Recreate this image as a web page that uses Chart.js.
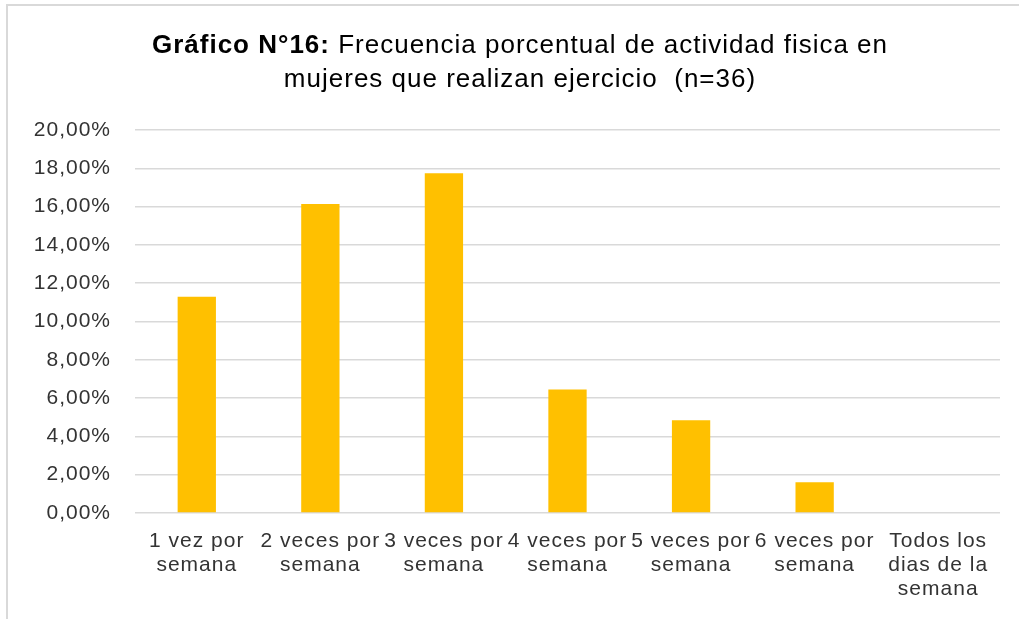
<!DOCTYPE html>
<html>
<head>
<meta charset="utf-8">
<script src="https://cdn.jsdelivr.net/npm/chart.js@4"></script>
<style>
  html, body { margin: 0; padding: 0; background: #fff; }
  #wrap { position: relative; width: 1019px; height: 619px; overflow: hidden; }
  #frame { position: absolute; left: 6px; top: 4px; width: 1100px; height: 700px;
           border-left: 2px solid #d9d9d9; border-top: 2px solid #d9d9d9; }
  canvas { position: absolute; left: 0; top: 0; }
</style>
</head>
<body>
<div id="wrap">
  <div id="frame"></div>
  <canvas id="chart-freq" width="1019" height="619"></canvas>
</div>
<script>
const titleBold = 'Gráfico N°16:';
const titleRest = ' Frecuencia porcentual de actividad fisica en';
const titleLine2 = 'mujeres que realizan ejercicio  (n=36)';

const categories = [
  ['1 vez por', 'semana'],
  ['2 veces por', 'semana'],
  ['3 veces por', 'semana'],
  ['4 veces por', 'semana'],
  ['5 veces por', 'semana'],
  ['6 veces por', 'semana'],
  ['Todos los', 'dias de la', 'semana'],
];
const pctValues = [11.29, 16.13, 17.74, 6.45, 4.84, 1.61, 0];

const fontFam = '"Liberation Sans", Arial, sans-serif';
const textColor = '#333333';

// the source text is a bit wider than plain Arial, so spread the letters
const spacingPlugin = {
  id: 'spacing',
  beforeInit(chart) { chart.ctx.letterSpacing = '1px'; },
  beforeDraw(chart) { chart.ctx.letterSpacing = '1px'; },
};

// mixed-weight title drawn on the canvas
const titlePlugin = {
  id: 'mixedTitle',
  afterDraw(chart) {
    const ctx = chart.ctx;
    const cx = 520;
    ctx.save();
    ctx.letterSpacing = '1px';
    ctx.fillStyle = '#000';
    ctx.textBaseline = 'middle';
    ctx.textAlign = 'left';
    const boldFont = `bold 26px ${fontFam}`;
    const normFont = `26px ${fontFam}`;
    ctx.font = boldFont;
    const wb = ctx.measureText(titleBold).width;
    ctx.font = normFont;
    const wr = ctx.measureText(titleRest).width;
    let x = cx - (wb + wr) / 2;
    ctx.font = boldFont;
    ctx.fillText(titleBold, x, 46);
    ctx.font = normFont;
    ctx.fillText(titleRest, x + wb, 46);
    ctx.textAlign = 'center';
    ctx.fillText(titleLine2, cx, 80);
    ctx.restore();
  },
};

new Chart(document.getElementById('chart-freq'), {
  type: 'bar',
  data: {
    labels: categories,
    datasets: [{
      label: 'Frecuencia',
      data: pctValues,
      backgroundColor: '#FFC000',
      categoryPercentage: 1,
      barPercentage: 0.31,
    }],
  },
  options: {
    responsive: false,
    animation: false,
    layout: { padding: { top: 130, right: 19, left: 20, bottom: 0 } },
    plugins: {
      legend: { display: false },
      tooltip: { enabled: false },
    },
    scales: {
      x: {
        grid: { display: false },
        border: { display: false },
        ticks: {
          color: textColor,
          font: { family: fontFam, size: 21, lineHeight: 1.15 },
          maxRotation: 0,
          autoSkip: false,
          padding: 8,
        },
        afterFit: s => { s.height = 106; },
      },
      y: {
        min: 0,
        max: 20,
        border: { display: false },
        grid: { color: '#d9d9d9', lineWidth: 1.5, drawTicks: false },
        ticks: {
          stepSize: 2,
          color: textColor,
          font: { family: fontFam, size: 21 },
          padding: 24,
          callback: v => v.toFixed(2).replace('.', ',') + '%',
        },
        afterFit: s => { s.width = 115; },
      },
    },
  },
  plugins: [spacingPlugin, titlePlugin],
});
</script>
</body>
</html>
